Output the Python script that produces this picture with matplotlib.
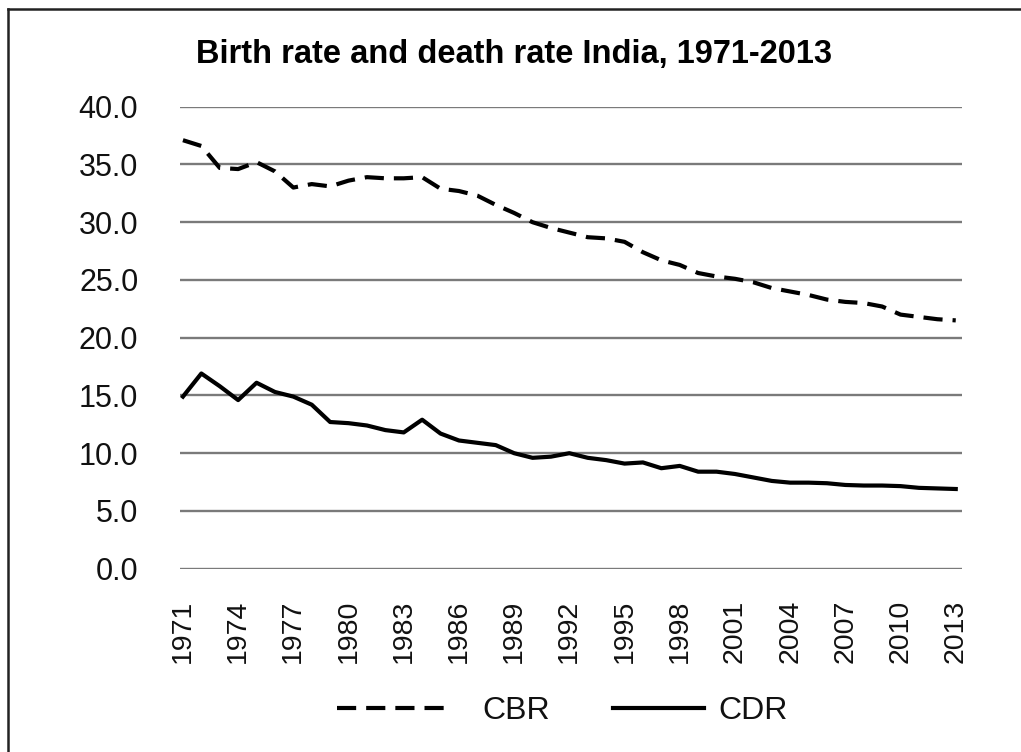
import matplotlib
matplotlib.use("Agg")
import matplotlib.pyplot as plt
from matplotlib.lines import Line2D

plt.rcParams['font.family'] = ['Liberation Sans', 'DejaVu Sans']

years = list(range(1971, 2014))

# Crude birth rate (per 1000 population)
cbr = [37.1, 36.6, 34.7, 34.6, 35.2, 34.4, 33.0, 33.3, 33.1, 33.6,
       33.9, 33.8, 33.8, 33.9, 32.9, 32.7, 32.3, 31.5, 30.8, 30.0,
       29.5, 29.1, 28.7, 28.6, 28.3, 27.4, 26.7, 26.3, 25.6, 25.3,
       25.1, 24.8, 24.3, 24.0, 23.7, 23.3, 23.1, 23.0, 22.7, 22.0,
       21.8, 21.6, 21.5]

# Crude death rate (per 1000 population)
cdr = [14.9, 16.9, 15.8, 14.6, 16.1, 15.3, 14.9, 14.2, 12.7, 12.6,
       12.4, 12.0, 11.8, 12.9, 11.7, 11.1, 10.9, 10.7, 10.0, 9.6,
       9.7, 10.0, 9.6, 9.4, 9.1, 9.2, 8.7, 8.9, 8.4, 8.4,
       8.2, 7.9, 7.6, 7.45, 7.45, 7.4, 7.25, 7.2, 7.2, 7.15,
       7.0, 6.95, 6.9]

x_ticks = list(range(1971, 2014, 3))
y_ticks = [0, 5, 10, 15, 20, 25, 30, 35, 40]

W, H = 1021, 752
fig = plt.figure(figsize=(W / 100, H / 100), dpi=100)
fig.patch.set_facecolor('white')

ax = fig.add_axes([180 / W, 1 - 568.7 / H, (962 - 180) / W, (568.7 - 106.7) / H])
ax.set_facecolor('white')

line_cbr, = ax.plot(years, cbr, color='black', lw=3.0, dashes=(4.6, 2.4),
                    solid_capstyle='butt', dash_capstyle='butt', label='CBR', zorder=3)
line_cdr, = ax.plot(years, cdr, color='black', lw=3.0, solid_joinstyle='round',
                    label='CDR', zorder=3)

ax.set_xlim(1970.84, 2013.34)
ax.set_ylim(0, 40)
ax.set_yticks(y_ticks)
ax.set_yticklabels([f'{v:.1f}' for v in y_ticks])
ax.set_xticks(x_ticks)
ax.set_xticklabels([str(y) for y in x_ticks], rotation=90)

ax.grid(axis='y', color='#7a7a7a', lw=1.7)
ax.set_axisbelow(True)
for s in ax.spines.values():
    s.set_visible(False)
ax.tick_params(axis='both', length=0, colors='#111111')
ax.tick_params(axis='y', pad=30, labelsize=22)
ax.tick_params(axis='x', pad=22, labelsize=20.5)

fig.text(514 / W, 1 - 54 / H, 'Birth rate and death rate India, 1971-2013',
         ha='center', va='center', fontsize=23.5, fontweight='bold', color='black')

# Legend entries, each with its own sample length
leg_y = 1 - 711 / H
leg1 = fig.legend(handles=[line_cbr], labels=['CBR'], loc='center left',
                  bbox_to_anchor=(337 / W, leg_y), frameon=False, fontsize=23,
                  handlelength=3.55, handletextpad=1.0, borderpad=0, borderaxespad=0)
leg2 = fig.legend(handles=[line_cdr], labels=['CDR'], loc='center left',
                  bbox_to_anchor=(613 / W, leg_y), frameon=False, fontsize=23,
                  handlelength=2.85, handletextpad=0.45, borderpad=0, borderaxespad=0)
for t in leg1.get_texts() + leg2.get_texts():
    t.set_color('#111111')

# Outer chart frame (top and left edges)
fig.add_artist(Line2D([8 / W, 1.0], [1 - 9 / H, 1 - 9 / H], color='#222222', lw=1.8,
                      transform=fig.transFigure))
fig.add_artist(Line2D([8 / W, 8 / W], [0.0, 1 - 9 / H], color='#222222', lw=1.8,
                      transform=fig.transFigure))

fig.savefig('out.png', dpi=100, facecolor='white')
